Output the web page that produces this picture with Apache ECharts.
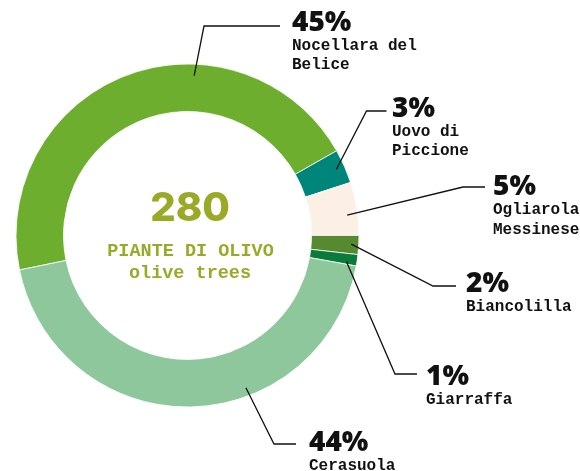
<!DOCTYPE html>
<html>
<head>
<meta charset="utf-8">
<script src="https://cdn.jsdelivr.net/npm/echarts@6/dist/echarts.min.js"></script>
<style>
  html, body { margin: 0; padding: 0; background: #fff; }
  #chart { width: 580px; height: 471px; }
</style>
</head>
<body>
<div id="chart"></div>
<script>
// Olive trees by variety
const varieties = ['Nocellara del Belice', 'Uovo di Piccione', 'Ogliarola Messinese', 'Biancolilla', 'Giarraffa', 'Cerasuola'];
const trees = [126, 9, 14, 5, 3, 123];
const totalLabel = '280';
const centerLines = ['PIANTE DI OLIVO', 'olive trees'];
const sliceColors = ['#6DAE2E', '#00857A', '#FCF0E6', '#578A30', '#0B7B3B', '#8DC79B'];

// ring geometry
const CX = 187.5, CY = 235.5, R_IN = 124, R_OUT = 171.5;

// leader lines: anchor angle on the ring (deg, ccw from east), anchor radius,
// elbow point, end point, and label anchor (left edge, middle of the percent line)
const leaders = [
  { a: 87.6, r: 160, elbow: [204, 26],    end: [280, 26],    text: [292, 23] },
  { a: 24,   r: 163, elbow: [366.5, 111], end: [386.5, 111], text: [392, 109] },
  { a: 7.3,  r: 161, elbow: [463, 187],   end: [485, 187],   text: [493, 187.5] },
  { a: -3,   r: 164, elbow: [433, 286],   end: [456, 286],   text: [466, 284] },
  { a: -9.3, r: 161, elbow: [395, 374],   end: [417, 374],   text: [426, 377.5] },
  { a: -69,  r: 163, elbow: [274, 444],   end: [296, 444],   text: [309, 443] }
];

// break multi-word names before their last word
function wrapName(name) {
  const i = name.lastIndexOf(' ');
  if (i < 0) return '{n|' + name + '}';
  return '{n|' + name.slice(0, i) + '}\n{n|' + name.slice(i + 1) + '}';
}

function anchorPoint(L) {
  const rad = L.a * Math.PI / 180;
  return [CX + L.r * Math.cos(rad), CY - L.r * Math.sin(rad)];
}

const PCT_LINE = 26;
const INK = '#111';
const CENTER_INK = '#9AAA26';

// leader lines drawn above the ring so they reach into the slices
const leaderGraphics = leaders.map(L => ({
  type: 'polyline',
  silent: true,
  z: 50,
  shape: { points: [anchorPoint(L), L.elbow, L.end] },
  style: { stroke: INK, lineWidth: 1.3, fill: null }
}));

const chart = echarts.init(document.getElementById('chart'), null, { renderer: 'canvas' });
chart.setOption({
  animation: false,
  backgroundColor: '#fff',
  graphic: [
    { type: 'text', x: 190, y: 208.5, silent: true,
      style: { text: totalLabel, fill: CENTER_INK, fontFamily: 'Inter', fontWeight: 800, fontSize: 40, align: 'center', verticalAlign: 'middle' } },
    { type: 'text', x: 190.5, y: 251.5, silent: true,
      style: { text: centerLines[0], fill: CENTER_INK, fontFamily: 'Liberation Mono', fontWeight: 'bold', fontSize: 18.5, align: 'center', verticalAlign: 'middle' } },
    { type: 'text', x: 190, y: 273.5, silent: true,
      style: { text: centerLines[1], fill: CENTER_INK, fontFamily: 'Liberation Mono', fontWeight: 'bold', fontSize: 18.5, align: 'center', verticalAlign: 'middle' } }
  ].concat(leaderGraphics),
  series: [{
    type: 'pie',
    center: [CX, CY],
    radius: [R_IN, R_OUT],
    startAngle: 191.6,
    clockwise: true,
    avoidLabelOverlap: false,
    silent: true,
    itemStyle: { borderColor: '#fff', borderWidth: 0.8 },
    emphasis: { disabled: true },
    label: {
      show: true,
      position: 'outside',
      formatter: p => '{p|' + Math.round(p.percent) + '%}\n' + wrapName(p.name),
      rich: {
        p: { fontFamily: 'Open Sans', fontWeight: 800, fontSize: 28, lineHeight: PCT_LINE, color: INK },
        n: { fontFamily: 'Liberation Mono', fontWeight: 'bold', fontSize: 16, lineHeight: 19.5, color: INK }
      }
    },
    labelLine: { show: false },
    labelLayout: function (params) {
      const L = leaders[params.dataIndex];
      return {
        x: L.text[0],
        y: L.text[1] - PCT_LINE / 2,
        align: 'left',
        verticalAlign: 'top'
      };
    },
    data: varieties.map((name, i) => ({ name: name, value: trees[i], itemStyle: { color: sliceColors[i] } }))
  }]
});
</script>
</body>
</html>
